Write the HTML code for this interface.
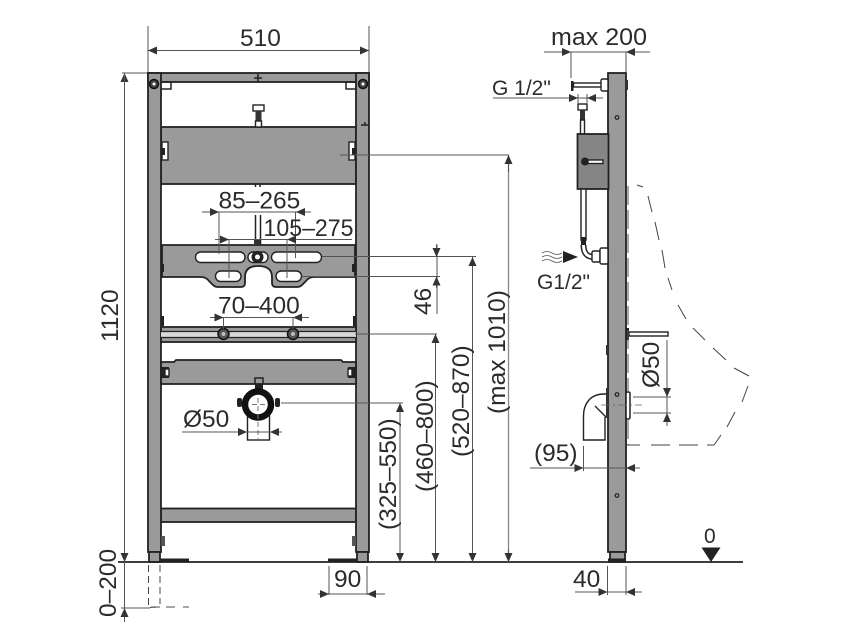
<!DOCTYPE html>
<html><head><meta charset="utf-8"><style>
html,body{margin:0;padding:0;background:#fff}
svg{display:block}
text{font-family:"Liberation Sans",sans-serif;font-size:24.5px;fill:#2b2b2b}
.d{stroke:#555;stroke-width:1;fill:none}
.g{fill:#9a9a9a;stroke:#222;stroke-width:1.8}
.k{fill:none;stroke:#222;stroke-width:1.5}
.w{fill:#fff;stroke:#222;stroke-width:1.4}
</style></head><body>
<svg width="856" height="630" viewBox="0 0 856 630" xmlns="http://www.w3.org/2000/svg">
<defs>
<marker id="a" markerUnits="userSpaceOnUse" markerWidth="10" markerHeight="8" refX="9" refY="4" orient="auto"><path d="M0 0L9 4L0 8z" fill="#333"/></marker>
</defs>
<rect width="856" height="630" fill="#fff"/>

<!-- front frame -->
<rect class="g" x="161" y="127" width="195" height="57"/>
<rect class="g" x="161" y="508.500" width="195" height="13.500"/>
<rect class="g" x="148" y="73" width="221" height="9"/>
<rect class="g" x="148" y="73" width="13" height="479"/>
<rect class="g" x="356" y="73" width="13" height="479"/>
<path d="M254 78h8M258 74v8" stroke="#222" stroke-width="1.600"/>
<path class="k" d="M361 125h8M365 122v3" stroke-width="1.300"/>
<!-- top lugs -->
<circle cx="154" cy="84" r="4.500" fill="#444" stroke="#111" stroke-width="1.500"/><circle cx="154" cy="84" r="1.500" fill="#fff"/>
<circle cx="363" cy="84" r="4.500" fill="#444" stroke="#111" stroke-width="1.500"/><circle cx="363" cy="84" r="1.500" fill="#fff"/>
<path class="k" d="M161 82h10v7h-10M356 82h-10v7h10" stroke-width="1.200"/>
<!-- top panel slots -->
<rect class="w" x="162" y="142" width="6" height="18"/>
<rect class="w" x="349" y="142" width="6" height="18"/>
<rect x="162" y="148" width="3" height="7" fill="#222"/><rect x="352" y="148" width="3" height="7" fill="#222"/>
<!-- top valve -->
<rect class="w" x="253" y="105" width="11" height="6"/>
<rect x="255.500" y="111" width="6" height="10" fill="#333"/>
<rect class="w" x="255.500" y="121" width="6" height="6"/>
<path class="k" d="M255.500 184v3M260 184v3" stroke-width="1.200"/>
<path class="k" d="M255.500 215v30M260.500 215v30" stroke-width="1.200"/>

<!-- bracket plate -->
<path class="g" d="M162 245H355V277H314Q309 277 306 281L302 285Q300 287 297 287H276Q272 287 272 283V277Q272 266 258 266Q245 266 245 277V283Q245 287 241 287H218Q215 287 213 285L209 281Q206 277 201 277H162Z"/>
<rect class="w" x="195.500" y="252" width="49.500" height="10.500" rx="5.200"/>
<rect class="w" x="271.500" y="252" width="50" height="10.500" rx="5.200"/>
<rect class="w" x="215.500" y="271" width="25.500" height="10.500" rx="5.200"/>
<rect class="w" x="276" y="271" width="25.500" height="10.500" rx="5.200"/>
<rect class="w" x="248" y="252" width="20" height="10.500" rx="5"/>
<circle cx="257.500" cy="257" r="6" fill="#222"/><circle cx="257.500" cy="257" r="2.500" fill="#fff"/>
<rect x="254" y="240" width="6" height="5" fill="#333"/>
<rect x="161" y="264" width="3" height="8" fill="#222"/><rect x="352" y="264" width="4" height="8" fill="#222"/>
<!-- rail -->
<rect class="g" x="161" y="327" width="195" height="15"/>
<path d="M161 332h195v5H161z" fill="#d8d8d8"/>
<path d="M161 331.500H355M161 337.500H355" stroke="#222" stroke-width="1.300"/>
<circle cx="223.500" cy="334" r="5.500" fill="#555" stroke="#111" stroke-width="1.500"/><circle cx="223.500" cy="334" r="2" fill="#bbb"/>
<circle cx="293" cy="334" r="5.500" fill="#555" stroke="#111" stroke-width="1.500"/><circle cx="293" cy="334" r="2" fill="#bbb"/>
<rect x="161" y="316" width="3" height="10" fill="#222"/><rect x="353" y="316" width="3" height="10" fill="#222"/>
<!-- lower panel -->
<path class="g" d="M161 362H174L176 360H341L343 362H356V384H161Z"/>
<rect x="161" y="367" width="8" height="11" fill="#222"/><rect class="w" x="165" y="369" width="4" height="7" stroke-width=".8"/>
<rect x="348" y="367" width="8" height="11" fill="#222"/><rect class="w" x="348" y="369" width="4" height="7" stroke-width=".8"/>
<!-- waste elbow -->
<rect class="w" x="247.500" y="415" width="22" height="25"/>
<path d="M255 384v-6h8v6" class="k" stroke-width="1.200"/><rect x="255" y="384" width="8" height="6" fill="#222"/>
<circle cx="258" cy="404.500" r="13" fill="#fff" stroke="#111" stroke-width="6.500"/>
<rect x="237" y="398" width="5" height="9" rx="2" fill="#222"/><rect x="275" y="398" width="5" height="9" rx="2" fill="#222"/>
<path d="M258 398v42M252 404.500h13" stroke="#777" stroke-width="1" stroke-dasharray="5 3" fill="none"/>
<!-- feet -->
<rect class="g" x="149" y="552" width="11" height="10"/>
<rect class="g" x="357" y="552" width="11" height="10"/>
<rect x="160" y="558.500" width="29" height="3.500" fill="#222"/>
<rect x="328" y="558.500" width="29" height="3.500" fill="#222"/>
<rect x="161" y="536" width="4" height="10" fill="#555"/><rect x="352" y="536" width="4" height="10" fill="#555"/>
<!-- dashed feet -->
<path d="M148.500 565V607.500H156M160 565V604" fill="none" stroke="#444" stroke-width="1" stroke-dasharray="7 4"/>
<path d="M151 607H189" stroke="#888" stroke-width="1.600" stroke-dasharray="9 6 9 8" fill="none"/>

<!-- floor -->
<path d="M118 562H743" stroke="#222" stroke-width="1.800"/>
<path d="M701.500 547.500H720.500L711 562Z" fill="#222"/>

<!-- side post -->
<rect class="g" x="608" y="73" width="18" height="479"/>
<rect class="g" x="610" y="552" width="15" height="10"/>
<rect x="608" y="558.500" width="18" height="3.500" fill="#222"/>
<rect x="626" y="80" width="2" height="10" fill="#333"/>
<circle cx="617" cy="117.500" r="1.800" fill="none" stroke="#222" stroke-width="1.200"/>
<circle cx="617" cy="394.500" r="1.800" fill="none" stroke="#222" stroke-width="1.200"/>
<circle cx="617" cy="495.500" r="1.800" fill="none" stroke="#222" stroke-width="1.200"/>
<!-- top bolt -->
<rect x="571" y="81" width="2.500" height="10" fill="#222"/>
<rect class="w" x="573.500" y="83" width="29" height="4"/>
<rect class="w" x="601" y="79" width="7" height="12" rx="1.500"/>
<!-- connector to box -->
<rect class="w" x="578" y="104" width="9" height="6"/>
<rect x="580" y="110" width="5" height="10" fill="#333"/>
<rect class="w" x="580.500" y="120" width="4" height="14"/>
<!-- box -->
<rect class="g" x="577.500" y="134" width="31" height="55" style="fill:#858585"/>
<circle cx="585" cy="161.500" r="4" fill="#222"/>
<rect class="w" x="588" y="160" width="15" height="3.500"/>
<!-- hose -->
<path class="w" d="M581 189V240H586V189Z"/>
<rect x="581" y="237" width="5" height="8" fill="#222"/>
<path d="M583.500 245C583.500 253 587 257 594 257" fill="none" stroke="#222" stroke-width="6"/>
<path d="M583.500 245C583.500 253 587 257 594 257" fill="none" stroke="#fff" stroke-width="3"/>
<rect class="w" x="592" y="251" width="8" height="11" rx="1.500"/>
<rect class="w" x="600" y="248" width="8" height="16" rx="1.500"/>
<!-- water symbol -->
<path d="M542 253q5-3 10 0t10 0M542 257q5-3 10 0t10 0M542 261q5-3 10 0t10 0" fill="none" stroke="#555" stroke-width=".8"/>
<path d="M563 251L578 257L563 263Z" fill="#222"/>
<!-- urinal spout -->
<rect x="626" y="328" width="3" height="12" fill="#222"/>
<rect class="w" x="629" y="332" width="39" height="4"/>
<!-- elbow side -->
<path class="w" d="M608 394H604C591 394 583.500 403 583.500 416V440H605V417" stroke-width="1.600"/>
<path d="M595 406L606 417" stroke="#222" stroke-width="1.300"/>
<rect x="606" y="388" width="2" height="30" fill="#333"/>
<rect x="626" y="392" width="4" height="27" rx="1.500" fill="#fff" stroke="#222" stroke-width="1.500"/>
<path d="M601 405H642" stroke="#666" stroke-width=".8" stroke-dasharray="9 3 2 3"/>
<rect x="606" y="345" width="2" height="10" fill="#333"/>
<!-- urinal dashed -->
<path d="M628 186V392M628 420V445" fill="none" stroke="#555" stroke-width="1" stroke-dasharray="19 5"/>
<path d="M627 445H640M651 445H670M679 445H698M707 445H714L721 435M727 427L735 412M742 402L748 386M749 376L734 368M726 360L713 348M705 340L693 328M686 319L678 305M672 290L668 278M665 268L662 250M659 240L655 222M652 212L648 196M643 187L637 185" fill="none" stroke="#444" stroke-width="1"/>

<!-- dimension lines -->
<path class="d" d="M148 26V72M369 26V72M148 50.500H369"/>
<path class="d" d="M170 50.500H148" marker-end="url(#a)"/><path class="d" d="M347 50.500H369" marker-end="url(#a)"/>
<path class="d" d="M122 73H147"/>
<path class="d" d="M124.500 85V73" marker-end="url(#a)"/>
<path class="d" d="M124.500 73V562"/>
<path class="d" d="M124.500 552V562" marker-end="url(#a)"/>
<path class="d" d="M124.500 562V622"/>
<path class="d" d="M124.500 620V608" marker-end="url(#a)"/>
<path class="d" d="M121 608H150"/>
<!-- 85-265 -->
<path class="d" d="M202 212H311"/><path class="d" d="M209 212H219" marker-end="url(#a)"/><path class="d" d="M306 212H296" marker-end="url(#a)"/>
<path class="d" d="M219 212V254M295.500 212V258"/>
<!-- 105-275 -->
<path class="d" d="M215 239.500H352"/><path class="d" d="M218 239.500H229" marker-end="url(#a)"/><path class="d" d="M297 239.500H287" marker-end="url(#a)"/>
<path class="d" d="M229 239.500V278M287 239.500V278"/>
<!-- 70-400 -->
<path class="d" d="M210 317.500H309"/><path class="d" d="M213 317.500H223.500" marker-end="url(#a)"/><path class="d" d="M304 317.500H293" marker-end="url(#a)"/>
<path class="d" d="M223.500 317.500V329M293 317.500V329"/>
<!-- phi50 front -->
<path class="d" d="M182 432H282"/><path class="d" d="M238 432H247" marker-end="url(#a)"/><path class="d" d="M279 432H270" marker-end="url(#a)"/>
<!-- right extensions -->
<path class="d" d="M340 155H509"/>
<path class="d" d="M322 256.500H476"/>
<path class="d" d="M302 276.500H440"/>
<path class="d" d="M355 334H437"/>
<path class="d" d="M281 403H403"/>
<path class="d" d="M437 244V314"/><path class="d" d="M436.500 245V257" marker-end="url(#a)"/><path class="d" d="M436.500 288V276.500" marker-end="url(#a)"/>
<path class="d" d="M508.500 155V562" style="stroke:#888;stroke-width:1.300"/><path class="d" d="M508.500 172V155" marker-end="url(#a)"/><path class="d" d="M508.500 550V562" marker-end="url(#a)"/>
<path class="d" d="M472.500 257V562"/><path class="d" d="M472.500 272V257" marker-end="url(#a)"/><path class="d" d="M472.500 550V562" marker-end="url(#a)"/>
<path class="d" d="M435.500 334V562"/><path class="d" d="M435.500 350V334" marker-end="url(#a)"/><path class="d" d="M435.500 550V562" marker-end="url(#a)"/>
<path class="d" d="M400 403V562"/><path class="d" d="M400 420V403" marker-end="url(#a)"/><path class="d" d="M400 550V562" marker-end="url(#a)"/>
<!-- 90 -->
<path class="d" d="M329 566V595M367 566V595M318 594H385"/><path class="d" d="M318 594H329" marker-end="url(#a)"/><path class="d" d="M378 594H367" marker-end="url(#a)"/>
<!-- max 200 -->
<path class="d" d="M544 52H650M571 52V78M626 52V72"/><path class="d" d="M560 52H571" marker-end="url(#a)"/><path class="d" d="M637 52H626" marker-end="url(#a)"/>
<!-- G 1/2 -->
<path class="d" d="M493 98H603M578 94V103M587 94V103"/><path class="d" d="M569 98H578" marker-end="url(#a)"/><path class="d" d="M596 98H587" marker-end="url(#a)"/>
<!-- phi50 side -->
<path class="d" d="M633 397H671M633 413H671M667 340V426"/><path class="d" d="M667 386V397" marker-end="url(#a)"/><path class="d" d="M667 424V413" marker-end="url(#a)"/>
<!-- 95 -->
<path class="d" d="M530 468H640M583.500 446V471"/><path class="d" d="M574 468H583.500" marker-end="url(#a)"/><path class="d" d="M636 468H626" marker-end="url(#a)"/>
<!-- 40 -->
<path class="d" d="M575 592H642M607.500 566V595M626 566V595"/><path class="d" d="M598 592H607.500" marker-end="url(#a)"/><path class="d" d="M636 592H626" marker-end="url(#a)"/>

<!-- labels -->
<text x="240" y="46">510</text>
<text x="218.500" y="208.500">85–265</text>
<text x="263.500" y="236" textLength="90" lengthAdjust="spacingAndGlyphs" style="font-size:24px">105–275</text>
<text x="218" y="313.500">70–400</text>
<text x="183" y="427">Ø50</text>
<text x="334" y="587">90</text>
<text x="551" y="45" textLength="96" lengthAdjust="spacingAndGlyphs">max 200</text>
<text x="492" y="95" style="font-size:21px">G 1/2"</text>
<text x="537" y="289" style="font-size:21px">G1/2"</text>
<text x="534" y="461">(95)</text>
<text x="573" y="587">40</text>
<text x="704" y="543" style="font-size:21px">0</text>
<text transform="translate(118 342) rotate(-90)">1120</text>
<text transform="translate(116 617) rotate(-90)">0–200</text>
<text transform="translate(431 315) rotate(-90)">46</text>
<text transform="translate(396 530) rotate(-90)">(325–550)</text>
<text transform="translate(433 492) rotate(-90)">(460–800)</text>
<text transform="translate(469 457) rotate(-90)">(520–870)</text>
<text transform="translate(505 414) rotate(-90)">(max 1010)</text>
<text transform="translate(659 388) rotate(-90)">Ø50</text>
</svg>
</body></html>
